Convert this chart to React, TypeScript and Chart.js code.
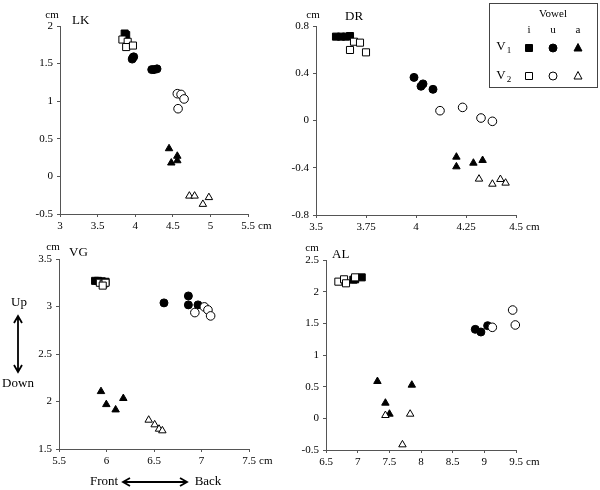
import React, { useEffect, useRef } from 'react';
import { Chart, registerables } from 'chart.js';

Chart.register(...registerables);

type P = [number, number];

// ---------- LK ----------
const LK_X_TICKS = [3, 3.5, 4, 4.5, 5, 5.5];
const LK_Y_TICKS = [-0.5, 0, 0.5, 1, 1.5, 2];
const LK_V1_I: P[] = [[3.86, 1.9], [3.88, 1.88]];
const LK_V1_U: P[] = [[3.96, 1.56], [3.97, 1.58], [3.98, 1.59], [4.22, 1.42], [4.25, 1.42], [4.29, 1.43]];
const LK_V1_A: P[] = [[4.45, 0.37], [4.56, 0.27], [4.56, 0.21], [4.48, 0.18]];
const LK_V2_I: P[] = [[3.83, 1.82], [3.9, 1.79], [3.88, 1.72], [3.97, 1.74]];
const LK_V2_U: P[] = [[4.56, 1.1], [4.61, 1.09], [4.65, 1.03], [4.57, 0.9]];
const LK_V2_A: P[] = [[4.72, -0.26], [4.79, -0.26], [4.9, -0.37], [4.98, -0.28]];

// ---------- DR ----------
const DR_X_TICKS = [3.5, 3.75, 4, 4.25, 4.5];
const DR_Y_TICKS = [-0.8, -0.4, 0, 0.4, 0.8];
const DR_V1_I: P[] = [[3.6, 0.71], [3.625, 0.71], [3.65, 0.71], [3.67, 0.715]];
const DR_V1_U: P[] = [[3.99, 0.365], [4.025, 0.29], [4.035, 0.31], [4.085, 0.264]];
const DR_V1_A: P[] = [[4.202, -0.309], [4.202, -0.391], [4.287, -0.36], [4.333, -0.337]];
const DR_V2_I: P[] = [[3.69, 0.667], [3.72, 0.659], [3.67, 0.597], [3.75, 0.577]];
const DR_V2_U: P[] = [[4.12, 0.083], [4.233, 0.111], [4.325, 0.021], [4.382, -0.007]];
const DR_V2_A: P[] = [[4.315, -0.495], [4.382, -0.538], [4.422, -0.498], [4.448, -0.529]];

// ---------- VG ----------
const VG_X_TICKS = [5.5, 6, 6.5, 7, 7.5];
const VG_Y_TICKS = [1.5, 2, 2.5, 3, 3.5];
const VG_V1_I: P[] = [[5.88, 3.27], [5.91, 3.27], [5.95, 3.265], [5.99, 3.26]];
const VG_V1_U: P[] = [[6.605, 3.038], [6.862, 3.111], [6.862, 3.017], [6.963, 3.017]];
const VG_V1_A: P[] = [[5.942, 2.106], [5.998, 1.969], [6.096, 1.913], [6.177, 2.033]];
const VG_V2_I: P[] = [[5.93, 3.25], [5.97, 3.24], [5.99, 3.25], [5.96, 3.22]];
const VG_V2_U: P[] = [[6.93, 2.936], [7.03, 2.996], [7.068, 2.964], [7.096, 2.901]];
const VG_V2_A: P[] = [[6.444, 1.805], [6.507, 1.756], [6.553, 1.71], [6.588, 1.693]];

// ---------- AL ----------
const AL_X_TICKS = [6.5, 7, 7.5, 8, 8.5, 9, 9.5];
const AL_Y_TICKS = [-0.5, 0, 0.5, 1, 1.5, 2, 2.5];
const AL_V1_I: P[] = [[6.932, 2.19], [6.96, 2.195], [7.064, 2.226]];
const AL_V1_U: P[] = [[8.857, 1.405], [8.946, 1.363], [9.052, 1.463]];
const AL_V1_A: P[] = [[7.312, 0.584], [7.438, 0.242], [7.502, 0.068], [7.855, 0.526]];
const AL_V2_I: P[] = [[6.695, 2.158], [6.785, 2.195], [6.816, 2.132], [6.959, 2.226]];
const AL_V2_U: P[] = [[9.126, 1.437], [9.447, 1.71], [9.489, 1.474]];
const AL_V2_A: P[] = [[7.438, 0.047], [7.707, -0.416], [7.829, 0.068]];

const W = 600;
const H = 490;
const FONT = '"Liberation Serif", "DejaVu Serif", "Times New Roman", serif';
const AXIS = '#555';

interface Panel {
  title: string;
  xTicks: number[];
  yTicks: number[];
  v1: P[][]; // i, u, a
  v2: P[][];
  area: { left: number; top: number; right: number; bottom: number };
  titlePos: [number, number];
  cmYPos: [number, number];
}

const PANELS: Panel[] = [
  {
    title: 'LK', xTicks: LK_X_TICKS, yTicks: LK_Y_TICKS,
    v1: [LK_V1_I, LK_V1_U, LK_V1_A], v2: [LK_V2_I, LK_V2_U, LK_V2_A],
    area: { left: 60, top: 26, right: 248, bottom: 214 },
    titlePos: [72, 21], cmYPos: [52, 15],
  },
  {
    title: 'DR', xTicks: DR_X_TICKS, yTicks: DR_Y_TICKS,
    v1: [DR_V1_I, DR_V1_U, DR_V1_A], v2: [DR_V2_I, DR_V2_U, DR_V2_A],
    area: { left: 316, top: 26, right: 516, bottom: 215 },
    titlePos: [345, 17], cmYPos: [313, 15],
  },
  {
    title: 'VG', xTicks: VG_X_TICKS, yTicks: VG_Y_TICKS,
    v1: [VG_V1_I, VG_V1_U, VG_V1_A], v2: [VG_V2_I, VG_V2_U, VG_V2_A],
    area: { left: 59, top: 259, right: 249, bottom: 449 },
    titlePos: [69, 253], cmYPos: [53, 247],
  },
  {
    title: 'AL', xTicks: AL_X_TICKS, yTicks: AL_Y_TICKS,
    v1: [AL_V1_I, AL_V1_U, AL_V1_A], v2: [AL_V2_I, AL_V2_U, AL_V2_A],
    area: { left: 326, top: 260, right: 516, bottom: 450 },
    titlePos: [332, 255], cmYPos: [312, 248],
  },
];

const STYLES = ['rect', 'circle', 'triangle'];
const RADII = [5, 4, 4.3];

const fmt = (v: number) => String(Math.round(v * 100) / 100);

function drawMarker(ctx: CanvasRenderingContext2D, kind: number, x: number, y: number, filled: boolean) {
  ctx.beginPath();
  if (kind === 0) {
    ctx.rect(x - 3.5, y - 3.5, 7, 7);
  } else if (kind === 1) {
    ctx.arc(x, y, 4, 0, Math.PI * 2);
  } else {
    ctx.moveTo(x, y - 4.5);
    ctx.lineTo(x + 4, y + 3);
    ctx.lineTo(x - 4, y + 3);
    ctx.closePath();
  }
  ctx.fillStyle = filled ? '#000' : '#fff';
  ctx.fill();
  ctx.strokeStyle = '#000';
  ctx.lineWidth = 1;
  ctx.stroke();
}

function drawExtras(ctx: CanvasRenderingContext2D) {
  ctx.save();
  // legend box
  ctx.strokeStyle = '#444';
  ctx.lineWidth = 1;
  ctx.strokeRect(489.5, 3.5, 108, 84);
  ctx.fillStyle = '#000';
  ctx.textAlign = 'center';
  ctx.textBaseline = 'middle';
  ctx.font = `11px ${FONT}`;
  ctx.fillText('Vowel', 553, 14);
  const cols = [529, 553, 578];
  ['i', 'u', 'a'].forEach((t, i) => ctx.fillText(t, cols[i], 30));
  ctx.font = `13px ${FONT}`;
  ctx.fillText('V', 501, 47);
  ctx.fillText('V', 501, 76);
  ctx.font = `9px ${FONT}`;
  ctx.fillText('1', 509, 51);
  ctx.fillText('2', 509, 80);
  cols.forEach((cx, i) => {
    drawMarker(ctx, i, cx, 48, true);
    drawMarker(ctx, i, cx, 76, false);
  });

  // Up / Down, Front / Back
  ctx.fillStyle = '#000';
  ctx.font = `13px ${FONT}`;
  ctx.fillText('Up', 19, 303);
  ctx.fillText('Down', 18, 384);
  ctx.fillText('Front', 104, 482);
  ctx.fillText('Back', 208, 482);

  ctx.strokeStyle = '#000';
  ctx.lineWidth = 1.8;
  ctx.beginPath();
  ctx.moveTo(18, 316); ctx.lineTo(18, 372);
  ctx.moveTo(14, 323); ctx.lineTo(18, 316); ctx.lineTo(22, 323);
  ctx.moveTo(14, 365); ctx.lineTo(18, 372); ctx.lineTo(22, 365);
  ctx.moveTo(123, 482); ctx.lineTo(187, 482);
  ctx.moveTo(130, 478); ctx.lineTo(123, 482); ctx.lineTo(130, 486);
  ctx.moveTo(180, 478); ctx.lineTo(187, 482); ctx.lineTo(180, 486);
  ctx.stroke();
  ctx.restore();
}

function makeConfig(p: Panel, withExtras: boolean): any {
  const datasets: any[] = [];
  // V2 (open) first so it is drawn on top
  p.v2.forEach((pts, i) => {
    datasets.push({
      label: `V2-${i}`,
      data: pts.map(([x, y]) => ({ x, y })),
      pointStyle: STYLES[i],
      pointRadius: RADII[i] + (i === 1 ? 0.3 : 0),
      backgroundColor: '#fff',
      borderColor: '#000',
      borderWidth: 1,
      clip: false,
    });
  });
  p.v1.forEach((pts, i) => {
    datasets.push({
      label: `V1-${i}`,
      data: pts.map(([x, y]) => ({ x, y })),
      pointStyle: STYLES[i],
      pointRadius: RADII[i],
      backgroundColor: '#000',
      borderColor: '#000',
      borderWidth: 1,
      clip: false,
    });
  });

  const tickFont = { family: FONT, size: 11 };
  const labelPlugin = {
    id: 'panelLabels',
    afterDraw(chart: any) {
      const ctx: CanvasRenderingContext2D = chart.ctx;
      const xs = chart.scales.x;
      ctx.save();
      ctx.fillStyle = '#000';
      ctx.textBaseline = 'middle';
      ctx.textAlign = 'left';
      ctx.font = `13px ${FONT}`;
      ctx.fillText(p.title, p.titlePos[0], p.titlePos[1]);
      ctx.font = `11px ${FONT}`;
      ctx.textAlign = 'center';
      ctx.fillText('cm', p.cmYPos[0], p.cmYPos[1]);
      ctx.textAlign = 'left';
      ctx.fillText('cm', xs.right + 10, xs.top + 12);
      ctx.restore();
      if (withExtras) drawExtras(ctx);
    },
  };

  return {
    type: 'scatter',
    data: { datasets },
    options: {
      responsive: false,
      animation: false,
      events: [],
      layout: { padding: { left: 0, top: p.area.top, right: W - p.area.right, bottom: 0 } },
      plugins: { legend: { display: false }, tooltip: { enabled: false }, title: { display: false } },
      scales: {
        x: {
          type: 'linear',
          position: 'bottom',
          min: p.xTicks[0],
          max: p.xTicks[p.xTicks.length - 1],
          afterBuildTicks: (s: any) => { s.ticks = p.xTicks.map((v) => ({ value: v })); },
          afterFit: (s: any) => { s.height = H - p.area.bottom; },
          grid: { display: true, drawOnChartArea: false, drawTicks: true, tickLength: 3, color: AXIS, lineWidth: 1 },
          border: { display: true, color: AXIS, width: 1 },
          ticks: { color: '#000', font: tickFont, padding: 3, maxRotation: 0, autoSkip: false, callback: (v: number) => fmt(v) },
        },
        y: {
          type: 'linear',
          position: 'left',
          min: p.yTicks[0],
          max: p.yTicks[p.yTicks.length - 1],
          afterBuildTicks: (s: any) => { s.ticks = p.yTicks.map((v) => ({ value: v })); },
          afterFit: (s: any) => { s.width = p.area.left; },
          grid: { display: true, drawOnChartArea: false, drawTicks: true, tickLength: 3, color: AXIS, lineWidth: 1 },
          border: { display: true, color: AXIS, width: 1 },
          ticks: { color: '#000', font: tickFont, padding: 4, autoSkip: false, callback: (v: number) => fmt(v) },
        },
      },
    },
    plugins: [labelPlugin],
  };
}

function PanelCanvas({ panel, extras }: { panel: Panel; extras: boolean }) {
  const ref = useRef<HTMLCanvasElement>(null);
  useEffect(() => {
    if (!ref.current) return;
    const chart = new Chart(ref.current, makeConfig(panel, extras));
    return () => chart.destroy();
  }, [panel, extras]);
  return (
    <canvas
      ref={ref}
      width={W}
      height={H}
      style={{ position: 'absolute', left: 0, top: 0, width: W, height: H }}
    />
  );
}

export default function App() {
  return (
    <div style={{ position: 'absolute', left: 0, top: 0, width: W, height: H, background: '#fff' }}>
      {PANELS.map((p, i) => (
        <PanelCanvas key={p.title} panel={p} extras={i === PANELS.length - 1} />
      ))}
    </div>
  );
}
